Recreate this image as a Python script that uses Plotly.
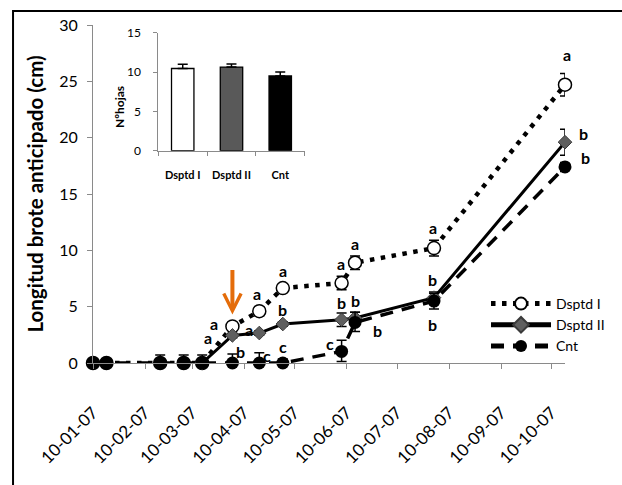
import plotly.graph_objects as go

# Sampling dates (dd-mm-yy axis labels)
dates = ["2007-01-10", "2007-01-18", "2007-02-19", "2007-03-05", "2007-03-16",
         "2007-04-03", "2007-04-19", "2007-05-03", "2007-06-07", "2007-06-15",
         "2007-08-01", "2007-10-18"]

# Shoot length (cm) per treatment with standard errors
dsptd1 = [0, 0, 0, 0, 0, 3.25, 4.6, 6.65, 7.1, 8.9, 10.2, 24.7]
dsptd1_err = [0, 0, 0, 0, 0, 0.3, 0.4, 0.2, 0.6, 0.6, 0.7, 1.0]

dsptd2 = [None, None, None, None, 0, 2.45, 2.66, 3.46, 3.84, 4.0, 5.8, 19.6]
dsptd2_err = [0, 0, 0, 0, 0, 0.2, 0.2, 0.2, 0.6, 0.5, 0.5, 1.15]

cnt = [0, 0, 0, 0, 0, 0, 0, 0, 1.03, 3.6, 5.5, 17.4]
cnt_err_plus = [0, 0, 0.7, 0.7, 0.7, 0.8, 0.9, 0.35, 1.0, 0.9, 0.7, 0.4]
cnt_err_minus = [0, 0, 0, 0, 0, 0, 0, 0, 0.9, 0.8, 0.7, 0.4]

# Significance letters
letters_d1 = [None, None, None, None, None, "a", "a", "a", "a", "a", "a", "a"]
letters_d2 = [None, None, None, None, None, "a", "a", "b", "b", "b", "b", "b"]
letters_cnt = [None, None, None, None, None, "b", "c", "c", "c", "b", "b", "b"]

# Inset: number of leaves
inset_groups = ["Dsptd I", "Dsptd II", "Cnt"]
inset_hojas = [10.45, 10.63, 9.5]
inset_err = [0.55, 0.4, 0.5]

tick_dates = ["2007-%02d-10" % m for m in range(1, 11)]

# Pixel offsets of the letters relative to their points
off_d1 = [None] * 5 + [(-18, 3), (-2, 18), (0, 18), (-1, 20), (0, 19), (-1, 21), (2, 30)]
off_d2 = [None] * 5 + [(-24, -2), (-10, 4), (0, 15), (0, 17), (0, 17), (-1, 18), (18, 9)]
off_cnt = [None] * 5 + [(8, 12), (8, 8), (0, 17), (-12, 8), (22, -8), (-1, -23), (20, 9)]

FONT = "Lato"
AXIS_GREY = "#8a8a8a"

fig = go.Figure()

fig.add_trace(go.Scatter(
    x=dates, y=dsptd1, name="Dsptd I", mode="lines+markers",
    line=dict(color="black", width=4.5, dash="4.5px,6.5px"),
    marker=dict(symbol="circle", size=13, color="white", line=dict(color="black", width=1.5)),
    error_y=dict(type="data", array=dsptd1_err, color="black", thickness=1.5, width=5),
    cliponaxis=False,
))
fig.add_trace(go.Scatter(
    x=dates, y=dsptd2, name="Dsptd II", mode="lines+markers",
    line=dict(color="black", width=3),
    marker=dict(symbol="diamond", size=10.5, color="#5f5f5f", line=dict(color="#3a3a3a", width=1)),
    error_y=dict(type="data", array=dsptd2_err, color="black", thickness=1.5, width=5),
    cliponaxis=False,
))
fig.add_trace(go.Scatter(
    x=dates, y=cnt, name="Cnt", mode="lines+markers",
    line=dict(color="black", width=3.5, dash="13px,9px"),
    marker=dict(symbol="circle", size=13, color="black"),
    error_y=dict(type="data", symmetric=False, array=cnt_err_plus, arrayminus=cnt_err_minus,
                 color="black", thickness=1.5, width=5),
    cliponaxis=False,
))

# Inset bar chart
fig.add_trace(go.Bar(
    x=inset_groups, y=inset_hojas, xaxis="x2", yaxis="y2", width=0.46,
    marker=dict(color=["white", "#595959", "black"], line=dict(color="black", width=1.3)),
    error_y=dict(type="data", symmetric=False, array=inset_err, arrayminus=[0, 0, 0],
                 color="black", thickness=1.5, width=5),
    showlegend=False,
))

annotations = []
for series, letters, offs in ((dsptd1, letters_d1, off_d1),
                              (dsptd2, letters_d2, off_d2),
                              (cnt, letters_cnt, off_cnt)):
    for d, v, lab, off in zip(dates, series, letters, offs):
        if lab is None:
            continue
        annotations.append(dict(
            x=d, y=v, text="<b>%s</b>" % lab, showarrow=False,
            xshift=off[0], yshift=off[1],
            font=dict(family=FONT, size=16, color="black"),
        ))

# Orange arrow marking the first measurement after the treatment
annotations.append(dict(
    x="2007-04-03", y=4.3, ax=0, ay=-46, text="", showarrow=True,
    arrowhead=5, arrowsize=0.85, arrowwidth=4, arrowcolor="#E46C0A", standoff=0,
))

# Inset y title
annotations.append(dict(
    xref="paper", yref="paper", x=(110 - 93) / 484, y=(363 - 84) / 338,
    text="<b>Nºhojas</b>", textangle=-90, showarrow=False,
    font=dict(family=FONT, size=12, color="black"),
))

fig.update_layout(
    width=622, height=485,
    margin=dict(l=93, r=45, t=25, b=122),
    paper_bgcolor="white", plot_bgcolor="white",
    font=dict(family=FONT, color="black"),
    showlegend=True,
    legend=dict(
        x=(496 - 93) / 484, y=(363 - 288) / 338, xanchor="left", yanchor="top",
        bgcolor="rgba(0,0,0,0)", itemwidth=60, itemsizing="constant",
        font=dict(family=FONT, size=14, color="black"),
        tracegroupgap=0,
    ),
    xaxis=dict(
        type="date", range=["2007-01-10", "2007-10-18"],
        tickmode="array", tickvals=tick_dates, tickformat="%d-%m-%y",
        tickangle=-45, ticks="outside", ticklen=5, tickcolor=AXIS_GREY,
        showline=True, linecolor=AXIS_GREY, linewidth=1,
        showgrid=False, zeroline=False,
        tickfont=dict(family=FONT, size=17, color="black"),
        ticklabelstandoff=27,
    ),
    yaxis=dict(
        range=[0, 30], dtick=5, ticks="outside", ticklen=5, tickcolor=AXIS_GREY,
        showline=True, linecolor=AXIS_GREY, linewidth=1,
        showgrid=False, zeroline=False,
        tickfont=dict(family=FONT, size=16, color="black"),
        ticklabelstandoff=6,
        title=dict(text="<b>Longitud brote anticipado (cm)</b>",
                   font=dict(family=FONT, size=20.5, color="black"), standoff=10),
    ),
    xaxis2=dict(
        domain=[(160 - 93) / 484, (310 - 93) / 484], anchor="y2",
        type="category", range=[-0.5, 2.5], tickson="boundaries",
        ticks="outside", ticklen=4, tickcolor=AXIS_GREY,
        showline=True, linecolor=AXIS_GREY, linewidth=1, showgrid=False,
        tickfont=dict(family=FONT, size=11, color="black", weight="bold"),
        ticklabelstandoff=14,
    ),
    yaxis2=dict(
        domain=[(363 - 150.7) / 338, (363 - 32.7) / 338], anchor="x2",
        range=[0, 15], dtick=5, ticks="outside", ticklen=4, tickcolor=AXIS_GREY,
        showline=True, linecolor=AXIS_GREY, linewidth=1, showgrid=False, zeroline=False,
        tickfont=dict(family=FONT, size=12, color="black"),
        ticklabelstandoff=10,
    ),
    annotations=annotations,
    shapes=[dict(
        type="rect", xref="paper", yref="paper",
        x0=(11 - 93) / 484, x1=(660 - 93) / 484,
        y0=(363 - 520) / 338, y1=(363 - 11) / 338,
        line=dict(color="black", width=2), layer="above",
    )],
)

fig.write_html("out.html")
